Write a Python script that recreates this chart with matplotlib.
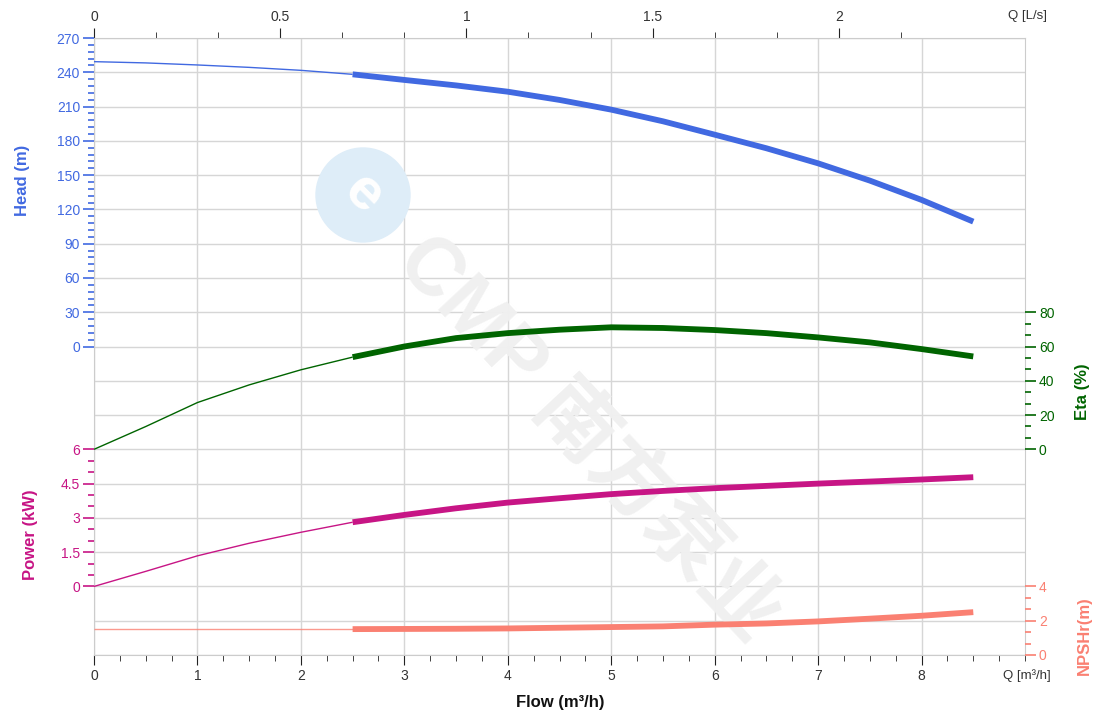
import numpy as np
import matplotlib
matplotlib.use("Agg")
import matplotlib.pyplot as plt
from matplotlib.patches import Ellipse
from matplotlib.ticker import FixedLocator, NullFormatter

plt.rcParams['font.family'] = ['Liberation Sans', 'Noto Sans CJK SC', 'DejaVu Sans']

# pump curve data (flow in m3/h)
flow = [0, 0.5, 1, 1.5, 2, 2.5, 3, 3.5, 4, 4.5, 5, 5.5, 6, 6.5, 7, 7.5, 8, 8.5]
head = [249.3, 248.2, 246.4, 244.3, 241.7, 238.2, 233.3, 228.5, 223.0, 215.8,
        207.3, 197.1, 185.4, 173.5, 160.3, 145.2, 128.3, 109.3]
eta = [0, 13.3, 27.3, 37.6, 46.4, 53.8, 60.0, 64.9, 67.8, 69.8,
       71.2, 70.8, 69.6, 67.8, 65.3, 62.4, 58.5, 54.2]
power = [0, 0.66, 1.34, 1.89, 2.37, 2.81, 3.13, 3.42, 3.67, 3.86,
         4.04, 4.18, 4.30, 4.40, 4.50, 4.59, 4.68, 4.78]
npsh = [1.51, 1.51, 1.51, 1.51, 1.51, 1.51, 1.52, 1.53, 1.55, 1.59,
        1.63, 1.67, 1.77, 1.84, 1.96, 2.12, 2.29, 2.50]
q_start = 2.5  # operating range starts here (thick line)

C_HEAD = '#4169E1'
C_ETA = '#006400'
C_POW = '#C71585'
C_NPSH = '#FA8072'
GRID = '#d6d6d6'

W, H = 1120, 718
fig = plt.figure(figsize=(W / 100, H / 100), dpi=100)
ax = fig.add_axes([94 / W, 1 - 655 / H, (1025 - 94) / W, (655 - 38) / H])

# host axis: flow + background grid
ax.set_xlim(0, 9)
ax.set_ylim(0, 18)
ax.set_yticks(range(19))
ax.tick_params(axis='y', length=0, labelleft=False)
ax.set_xticks(range(9))
ax.xaxis.set_minor_locator(FixedLocator(np.arange(0, 9.01, 0.25)))
ax.tick_params(axis='x', which='major', length=7, color='#222222', labelsize=10,
               labelcolor='#333333', pad=3)
ax.tick_params(axis='x', which='minor', length=4, color='#222222')
ax.grid(True, color=GRID, lw=1)
for s in ax.spines.values():
    s.set_color('#cccccc')
ax.set_axisbelow(True)

top = ax.secondary_xaxis('top', functions=(lambda q: q / 3.6, lambda q: q * 3.6))
top.set_xticks([0, 0.5, 1, 1.5, 2])
top.set_xticklabels(['0', '0.5', '1', '1.5', '2'])
top.xaxis.set_minor_locator(FixedLocator(np.arange(0, 2.2, 1 / 6)))
top.tick_params(which='major', length=7, color='#222222', labelsize=10,
                labelcolor='#333333', pad=3)
top.tick_params(which='minor', length=4, color='#222222')
top.spines['top'].set_visible(False)


def twin(lo, hi, side, majors, minors, color, fmt=None):
    a = ax.twinx()
    a.set_ylim(lo, hi)
    for s in a.spines.values():
        s.set_visible(False)
    if side == 'left':
        a.yaxis.tick_left()
    else:
        a.yaxis.tick_right()
    a.yaxis.set_major_locator(FixedLocator(majors))
    a.yaxis.set_minor_locator(FixedLocator(minors))
    a.yaxis.set_minor_formatter(NullFormatter())
    if fmt is not None:
        a.set_yticklabels(fmt)
    a.tick_params(which='major', length=8, width=1.2, color=color, labelcolor=color,
                  labelsize=10, pad=2)
    a.tick_params(which='minor', length=4, width=1.2, color=color)
    return a


ax_h = twin(-270, 270, 'left', np.arange(0, 271, 30), np.arange(0, 271, 6), C_HEAD)
ax_e = twin(-120, 240, 'right', np.arange(0, 81, 20), np.arange(0, 81, 20 / 3), C_ETA)
ax_p = twin(-3, 24, 'left', np.arange(0, 6.1, 1.5), np.arange(0, 6.1, 0.5), C_POW,
            ['0', '1.5', '3', '4.5', '6'])
ax_n = twin(0, 36, 'right', [0, 2, 4], np.arange(0, 4.1, 2 / 3), C_NPSH)

f = np.array(flow)
lo = f <= q_start
hi = f >= q_start
for a, y, c, alpha_thin in [(ax_h, head, C_HEAD, 1), (ax_e, eta, C_ETA, 1),
                            (ax_p, power, C_POW, 1), (ax_n, npsh, C_NPSH, 0.8)]:
    y = np.array(y)
    a.plot(f[lo], y[lo], color=c, lw=1, alpha=alpha_thin, solid_capstyle='butt')
    a.plot(f[hi], y[hi], color=c, lw=4.2, solid_capstyle='butt')

# watermark
ax.text(0.53, 0.35, 'CMP 南方泵业', transform=ax.transAxes, rotation=-47,
        rotation_mode='anchor', ha='center', va='center', fontsize=58,
        fontweight='bold', color='#f0f0f0', zorder=1,
        family=['Liberation Sans', 'Noto Sans CJK SC'])
fig.patches.append(Ellipse((363 / W, 1 - 195 / H), 94 / W, 94 / H,
                           transform=fig.transFigure, color='#deedf8', zorder=1))
fig.text(363 / W, 1 - 195 / H, 'e', rotation=-45, ha='center', va='center',
         fontsize=42, fontweight='bold', color='white')

# axis titles
kw = dict(fontsize=12, fontweight='bold', ha='center', va='center')
fig.text(22 / W, 1 - 180 / H, 'Head (m)', rotation=90, color=C_HEAD, **kw)
fig.text(30 / W, 1 - 535 / H, 'Power (kW)', rotation=90, color=C_POW, **kw)
fig.text(1083 / W, 1 - 392 / H, 'Eta (%)', rotation=90, color=C_ETA, **kw)
fig.text(1084 / W, 1 - 636 / H, 'NPSHr(m)', rotation=90, color=C_NPSH, **kw)
fig.text(560 / W, 1 - 703 / H, 'Flow (m³/h)', color='#111111', **kw)
fig.text(1027 / W, 1 - 676 / H, 'Q [m³/h]', fontsize=9.5, color='#333333',
         ha='center', va='center')
fig.text(1027 / W, 1 - 16 / H, 'Q [L/s]', fontsize=9.5, color='#333333',
         ha='center', va='center')

fig.savefig('out.png', dpi=100)
